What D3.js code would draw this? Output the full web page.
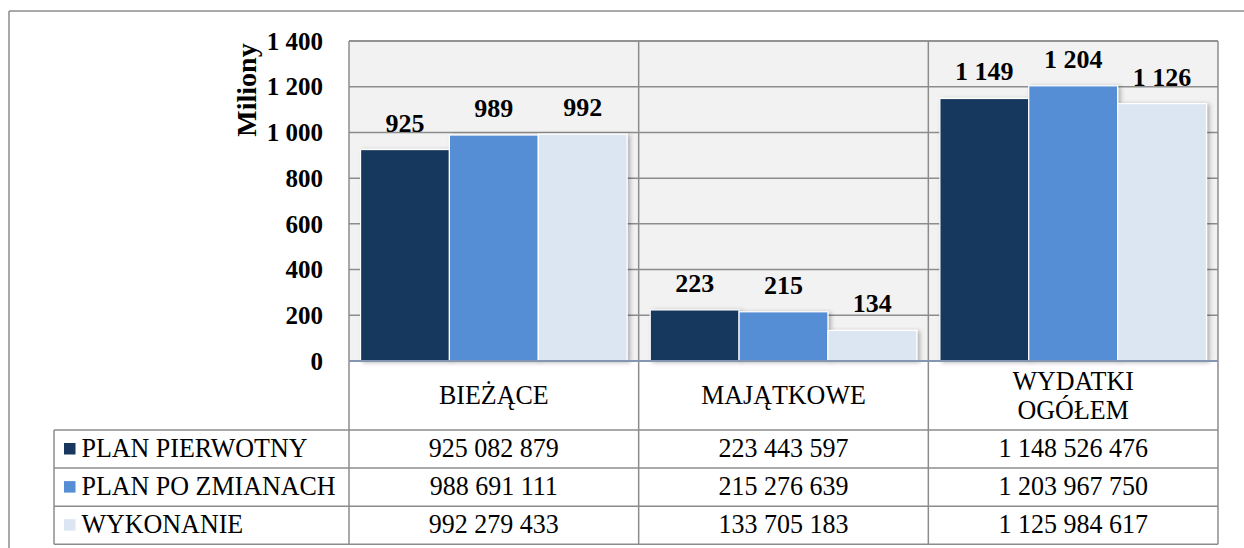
<!DOCTYPE html>
<html>
<head>
<meta charset="utf-8">
<script src="https://cdn.jsdelivr.net/npm/d3@7"></script>
<style>
  html, body { margin: 0; padding: 0; background: #ffffff; }
  svg { display: block; }
</style>
</head>
<body>
<svg id="chart" width="1244" height="548"></svg>
<script>
// Expenditure categories and series (PLN)
const categories = ["BIEŻĄCE", "MAJĄTKOWE", "WYDATKI\nOGÓŁEM"];
const seriesNames = ["PLAN PIERWOTNY", "PLAN PO ZMIANACH", "WYKONANIE"];
const planPierwotny = [925082879, 223443597, 1148526476];
const planPoZmianach = [988691111, 215276639, 1203967750];
const wykonanie = [992279433, 133705183, 1125984617];
const yTicks = [0, 200, 400, 600, 800, 1000, 1200, 1400];
const axisTitle = "Miliony";

const seriesValues = [planPierwotny, planPoZmianach, wykonanie];
const colors = ["#17375e", "#558ed5", "#dce6f2"];
const FONT = "'Liberation Serif', Tinos, 'Times New Roman', 'DejaVu Serif', serif";

const pl = d3.formatLocale({ decimal: ",", thousands: " ", grouping: [3], currency: ["", " zł"] });
const fmt = pl.format(",d");

const svg = d3.select("#chart").style("font-family", FONT);
const W = 1244, H = 548;

// layout
const plot = { left: 349, right: 1218, top: 41, bottom: 361 };
const table = { left: 54, headerBottom: 430, rowH: 38.1 };
const gridColor = "#8c8c8c";
const tableFont = 26, stretch = 1.06;

function txt(sel) {
  return sel.style("font-family", FONT).attr("fill", "#000");
}
// regular table text, slightly taller than wide
function cell(parent, x, yb, s, anchor) {
  return txt(parent.append("text"))
    .attr("transform", `translate(${x},${yb}) scale(1,${stretch})`)
    .attr("text-anchor", anchor || "middle")
    .attr("font-size", tableFont)
    .text(s);
}

// drop shadow for bars
const defs = svg.append("defs");
const f = defs.append("filter").attr("id", "barShadow")
  .attr("x", "-10%").attr("y", "-10%").attr("width", "130%").attr("height", "130%");
f.append("feDropShadow").attr("dx", 2.5).attr("dy", 1).attr("stdDeviation", 2)
  .attr("flood-color", "#000").attr("flood-opacity", 0.28);

// outer frame (top and left edges)
svg.append("line").attr("x1", 9).attr("x2", W).attr("y1", 11).attr("y2", 11)
  .attr("stroke", "#8c8c8c").attr("stroke-width", 1.5);
svg.append("line").attr("x1", 9).attr("x2", 9).attr("y1", 11).attr("y2", H)
  .attr("stroke", "#8c8c8c").attr("stroke-width", 1.5);

// scales
const y = d3.scaleLinear().domain([0, 1400]).range([plot.bottom, plot.top]);
const x0 = d3.scaleBand().domain(categories).range([plot.left, plot.right]).paddingInner(0).paddingOuter(0);
const x1 = d3.scaleBand().domain(seriesNames).range([0, x0.bandwidth()]).paddingInner(0).paddingOuter(0.13);

// plot background
svg.append("rect").attr("x", plot.left).attr("y", plot.top)
  .attr("width", plot.right - plot.left).attr("height", plot.bottom - plot.top)
  .attr("fill", "#f2f2f2");

// horizontal gridlines
svg.append("g").selectAll("line").data(yTicks.filter(d => d > 0)).join("line")
  .attr("x1", plot.left).attr("x2", plot.right)
  .attr("y1", d => y(d)).attr("y2", d => y(d))
  .attr("stroke", gridColor).attr("stroke-width", 1.5);

// vertical category separators through plot and table
const table_bottom = table.headerBottom + 3 * table.rowH;
const sepXs = categories.map(c => x0(c)).concat([plot.right]);
svg.append("g").selectAll("line").data(sepXs).join("line")
  .attr("x1", d => d).attr("x2", d => d)
  .attr("y1", plot.top).attr("y2", table_bottom)
  .attr("stroke", gridColor).attr("stroke-width", 1.5);

// y axis tick labels
const yAxis = d3.axisLeft(y).tickValues(yTicks).tickSize(0).tickPadding(0)
  .tickFormat(d => fmt(d));
const gy = svg.append("g").attr("transform", `translate(${plot.left - 26},0)`).call(yAxis);
gy.select(".domain").remove();
gy.attr("font-family", null);
txt(gy.selectAll("text"))
  .attr("font-size", 25).attr("font-weight", "bold")
  .attr("dy", "0.33em");

// axis title
txt(svg.append("text"))
  .attr("transform", `translate(256,90) rotate(-90)`)
  .attr("text-anchor", "middle")
  .attr("font-size", 28).attr("font-weight", "bold")
  .text(axisTitle);

// bars
const barData = [];
categories.forEach((c, ci) => {
  seriesNames.forEach((s, si) => {
    barData.push({ cat: c, series: s, si, value: seriesValues[si][ci] / 1e6 });
  });
});

svg.append("g").selectAll("rect").data(barData).join("rect")
  .attr("x", d => x0(d.cat) + x1(d.series))
  .attr("y", d => y(d.value))
  .attr("width", x1.bandwidth())
  .attr("height", d => y(0) - y(d.value))
  .attr("fill", d => colors[d.si])
  .attr("stroke", "#ffffff").attr("stroke-width", 1.2)
  .attr("filter", "url(#barShadow)");

// baseline
svg.append("line").attr("x1", plot.left).attr("x2", plot.right)
  .attr("y1", y(0)).attr("y2", y(0))
  .attr("stroke", "#8496b0").attr("stroke-width", 2);

// data labels
txt(svg.append("g").selectAll("text").data(barData).join("text"))
  .attr("x", d => x0(d.cat) + x1(d.series) + x1.bandwidth() / 2)
  .attr("y", d => y(d.value) - 18)
  .attr("text-anchor", "middle")
  .attr("font-size", 26).attr("font-weight", "bold")
  .text(d => fmt(Math.round(d.value)));

// table: category header
const hdr = svg.append("g");
categories.forEach(c => {
  const lines = c.split("\n");
  const cx = x0(c) + x0.bandwidth() / 2;
  if (lines.length === 1) {
    cell(hdr, cx, 404, lines[0]);
  } else {
    cell(hdr, cx, 390, lines[0]);
    cell(hdr, cx, 419, lines[1]);
  }
});

// table rows
const rows = svg.append("g");
seriesNames.forEach((s, si) => {
  const top = table.headerBottom + si * table.rowH;
  rows.append("line").attr("x1", table.left).attr("x2", plot.right)
    .attr("y1", top).attr("y2", top).attr("stroke", gridColor).attr("stroke-width", 1.5);
  rows.append("rect").attr("x", 64).attr("y", top + 13)
    .attr("width", 11.5).attr("height", 11.5).attr("fill", colors[si]);
  cell(rows, 81.5, top + 27, s, "start");
  categories.forEach((c, ci) => {
    cell(rows, x0(c) + x0.bandwidth() / 2, top + 27, fmt(seriesValues[si][ci]));
  });
});
rows.append("line").attr("x1", table.left).attr("x2", plot.right)
  .attr("y1", table_bottom).attr("y2", table_bottom).attr("stroke", gridColor).attr("stroke-width", 1.5);
rows.append("line").attr("x1", table.left).attr("x2", table.left)
  .attr("y1", table.headerBottom).attr("y2", table_bottom).attr("stroke", gridColor).attr("stroke-width", 1.5);
// plot top border
svg.append("line").attr("x1", plot.left).attr("x2", plot.right)
  .attr("y1", plot.top).attr("y2", plot.top).attr("stroke", gridColor).attr("stroke-width", 1.5);
</script>
</body>
</html>
